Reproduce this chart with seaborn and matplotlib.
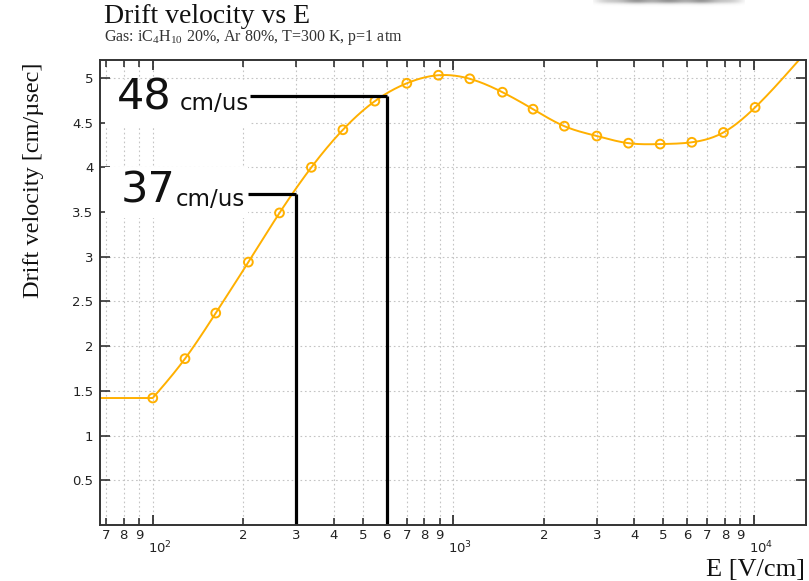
import numpy as np
import pandas as pd
import matplotlib
matplotlib.use("Agg")
import matplotlib.pyplot as plt
import matplotlib.transforms as mtransforms
from matplotlib.patches import Rectangle
from matplotlib.ticker import FixedLocator, FixedFormatter
import seaborn as sns

# Electron drift velocity, iC4H10 20% / Ar 80%, T = 300 K, p = 1 atm
field = [100, 128, 162, 208, 264, 337, 429, 548, 700, 892,
         1134, 1456, 1841, 2340, 3000, 3823, 4875, 6210, 7914, 10086]
velocity = [1.42, 1.86, 2.37, 2.94, 3.49, 4.00, 4.42, 4.74, 4.94, 5.03,
            4.99, 4.84, 4.65, 4.46, 4.35, 4.27, 4.26, 4.28, 4.39, 4.67]

# curve beyond the last computed point, where it leaves the frame
tail_field = [14200]
tail_velocity = [5.21]
# constant continuation below the first point
low_field = 67

# reference readings marked on the curve
guide_field = [600, 300]
guide_level = [4.8, 3.7]
guide_text = ["48", "37"]

x_minor_ticks = [70, 80, 90, 200, 300, 400, 500, 600, 700, 800, 900,
                 2000, 3000, 4000, 5000, 6000, 7000, 8000, 9000]
x_minor_labels = ["7", "8", "9", "2", "3", "4", "5", "6", "7", "8", "9",
                  "2", "3", "4", "5", "6", "7", "8", "9"]
x_major_ticks = [100, 1000, 10000]
x_major_labels = [r"$10^{2}$", r"$10^{3}$", r"$10^{4}$"]
y_ticks = [0.5, 1, 1.5, 2, 2.5, 3, 3.5, 4, 4.5, 5]

CURVE = "#FFB000"


def natural_spline(xk, yk, xs):
    """Natural cubic spline through (xk, yk) evaluated at xs."""
    xk = np.asarray(xk, float)
    yk = np.asarray(yk, float)
    n = len(xk)
    h = np.diff(xk)
    A = np.zeros((n, n))
    r = np.zeros(n)
    A[0, 0] = A[-1, -1] = 1.0
    for i in range(1, n - 1):
        A[i, i - 1] = h[i - 1]
        A[i, i] = 2 * (h[i - 1] + h[i])
        A[i, i + 1] = h[i]
        r[i] = 3 * ((yk[i + 1] - yk[i]) / h[i] - (yk[i] - yk[i - 1]) / h[i - 1])
    c = np.linalg.solve(A, r)
    b = (yk[1:] - yk[:-1]) / h - h * (2 * c[:-1] + c[1:]) / 3
    d = (c[1:] - c[:-1]) / (3 * h)
    idx = np.clip(np.searchsorted(xk, xs) - 1, 0, n - 2)
    dx = xs - xk[idx]
    return yk[idx] + b[idx] * dx + c[idx] * dx ** 2 + d[idx] * dx ** 3


sns.set_theme(style="ticks")
plt.rcParams["font.family"] = ["DejaVu Sans"]
plt.rcParams["mathtext.fontset"] = "dejavusans"

fig = plt.figure(figsize=(8.09, 5.81), dpi=100)
ax = fig.add_axes([0.1242, 0.0964, 0.8727, 0.8003])
ax.set_xscale("log")
ax.set_axisbelow(True)

# smooth curve in log(E)
knots_e = np.log10(field + tail_field)
knots_v = np.array(velocity + tail_velocity)
le = np.linspace(knots_e[0], knots_e[-1], 600)
curve_e = np.concatenate([[low_field], 10 ** le])
curve_v = np.concatenate([[velocity[0]], natural_spline(knots_e, knots_v, le)])
curve = pd.DataFrame({"E": curve_e, "v": curve_v})
points = pd.DataFrame({"E": field, "v": velocity})

sns.lineplot(data=curve, x="E", y="v", sort=False, estimator=None,
             color=CURVE, lw=1.4, ax=ax, zorder=3)
sns.scatterplot(data=points, x="E", y="v", marker="o", s=40,
                color=CURVE, linewidth=1.4, ax=ax, zorder=4)
coll = ax.collections[-1]
coll.set_facecolor("none")
coll.set_edgecolor(CURVE)

# white panels behind the readings
for (x0, y0, w, h) in [(0.006, 0.857, 0.206, 0.100), (0.006, 0.660, 0.203, 0.110)]:
    ax.add_patch(Rectangle((x0, y0), w, h, transform=ax.transAxes,
                           facecolor="white", edgecolor="none", zorder=1))

# guide lines from the curve down to the axis and across to the labels
hline_start = [210, 207]
for e, lev, x0 in zip(guide_field, guide_level, hline_start):
    ax.plot([e, e], [0, lev], color="black", lw=2.3, solid_capstyle="butt", zorder=5)
    ax.plot([x0, e], [lev, lev], color="black", lw=2.3, solid_capstyle="butt", zorder=5)

label_font = ["DejaVu Sans"]
ax.text(76.0, 4.646, guide_text[0], fontsize=31, family=label_font,
        ha="left", va="baseline", color="#111111", zorder=6)
ax.text(123, 4.646, "cm/us", fontsize=16.5, family=label_font,
        ha="left", va="baseline", color="#111111", zorder=6)
ax.text(78.5, 3.61, guide_text[1], fontsize=31, family=label_font,
        ha="left", va="baseline", color="#111111", zorder=6)
ax.text(119, 3.565, "cm/us", fontsize=16.5, family=label_font,
        ha="left", va="baseline", color="#111111", zorder=6)

ax.set_xlim(67, 14950)
ax.set_ylim(0, 5.2)

ax.xaxis.set_major_locator(FixedLocator(x_major_ticks))
ax.xaxis.set_major_formatter(FixedFormatter(x_major_labels))
ax.xaxis.set_minor_locator(FixedLocator(x_minor_ticks))
ax.xaxis.set_minor_formatter(FixedFormatter(x_minor_labels))
ax.yaxis.set_major_locator(FixedLocator(y_ticks))
ax.yaxis.set_major_formatter(FixedFormatter([f"{t:g}" for t in y_ticks]))
ax.yaxis.set_minor_locator(FixedLocator([]))

ax.tick_params(which="both", direction="in", top=True, right=True,
               labeltop=False, labelright=False, colors="#222222",
               labelsize=9.5)
ax.tick_params(axis="x", which="major", length=7, width=1.2, pad=10.5)
ax.tick_params(axis="x", which="minor", length=5, width=1.1, pad=3)
ax.tick_params(axis="y", which="major", length=7, width=1.1, pad=5)

offset = mtransforms.ScaledTranslation(0.07, 0, fig.dpi_scale_trans)
for lab in ax.xaxis.get_majorticklabels():
    lab.set_transform(lab.get_transform() + offset)

ax.grid(which="both", axis="x", ls=(0, (1.5, 2.5)), color="#c4c4c4", lw=0.8)
ax.grid(which="major", axis="y", ls=(0, (1.5, 2.5)), color="#c4c4c4", lw=0.8)
for sp in ax.spines.values():
    sp.set_color("#333333")
    sp.set_linewidth(1.4)
    sp.set_zorder(7)

ax.set_xlabel("")
ax.set_ylabel("")

serif = ["Liberation Serif", "DejaVu Serif"]
fig.text(0.1286, 0.961, "Drift velocity vs E", fontsize=20, family=serif,
         ha="left", va="baseline", color="#111111")
plt.rcParams["mathtext.fontset"] = "custom"
plt.rcParams["mathtext.rm"] = "Liberation Serif"
fig.text(0.1286, 0.9294,
         r"Gas: iC$_{\mathregular{4}}$H$_{\mathregular{10}}$ 20%, Ar 80%, T=300 K, p=1 atm",
         fontsize=11.5, family=serif, ha="left", va="baseline", color="#333333")
fig.text(0.041, 0.69, "Drift velocity [cm/µsec]", fontsize=17.5, family=serif,
         rotation=90, ha="center", va="center", color="#111111")
fig.text(0.995, 0.008, "E [V/cm]", fontsize=19, family=serif,
         ha="right", va="baseline", color="#111111")

# soft grey smudge along the top edge
w, hgt = 152, 7
xs = np.linspace(-1, 1, w)
ys = np.linspace(0, 1, hgt)
prof_x = np.clip(1.1 - np.abs(xs) ** 2.5, 0, 1) * (0.8 + 0.2 * np.cos(xs * 7) ** 2)
prof_y = np.exp(-(ys / 0.5) ** 2)
alpha = np.outer(prof_y, prof_x) * 0.6
smudge = np.zeros((hgt, w, 4))
smudge[..., :3] = 0.3
smudge[..., 3] = np.clip(alpha, 0, 1)
fig.figimage(smudge, xo=593, yo=581 - hgt, origin="upper", zorder=10)

fig.savefig("out.png", dpi=100)
